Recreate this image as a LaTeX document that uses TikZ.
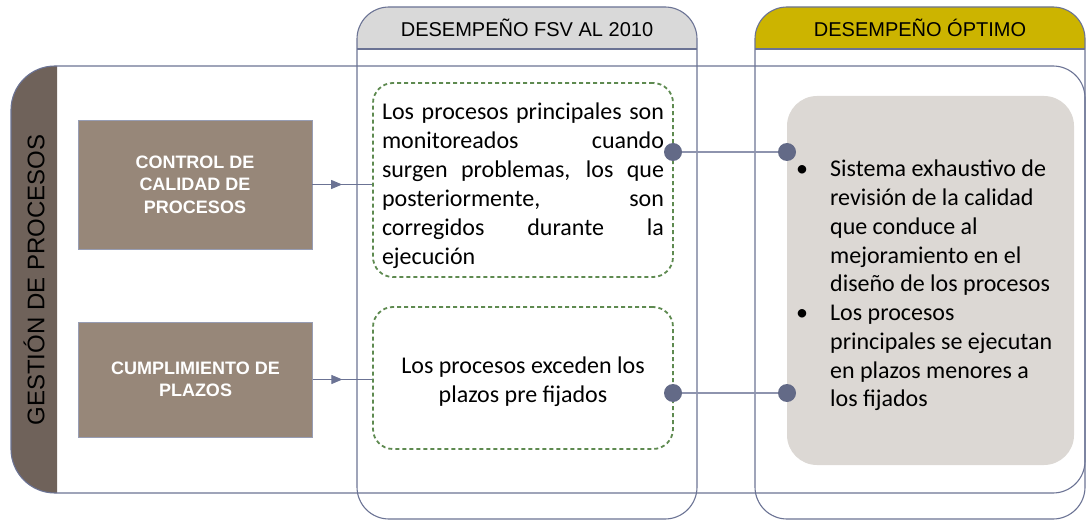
\documentclass[tikz,border=0pt]{standalone}
\usepackage{fontspec}
\setmainfont{Liberation Sans}
\newfontfamily\calibri{Carlito}
\usetikzlibrary{arrows.meta, shapes, positioning, calc, decorations.markings}

\definecolor{frameline}{HTML}{6B7394}
\definecolor{stripbrown}{HTML}{6F625A}
\definecolor{boxbrown}{HTML}{978779}
\definecolor{hdrgrey}{HTML}{D9D9D9}
\definecolor{hdrolive}{HTML}{CCB400}
\definecolor{optgrey}{HTML}{DCD8D4}
\definecolor{dashgreen}{HTML}{5E8A50}
\definecolor{dotslate}{HTML}{636A87}
\definecolor{linkslate}{HTML}{8E94AE}

\begin{document}
\begin{tikzpicture}[
    x=1pt, y=-1pt,
    frame/.style={draw=frameline, line width=1.1pt},
    hdr/.style={font=\fontsize{20}{24}\selectfont, text=black},
    areabox/.style={rectangle, draw=frameline!70, fill=boxbrown, text=white, font=\fontsize{18}{22.5}\selectfont\bfseries, align=center, minimum width=234pt},
    statebox/.style={rectangle, draw=dashgreen, line width=1.8pt, dash pattern=on 4pt off 3pt, rounded corners=20pt, minimum width=300pt},
    statetext/.style={inner sep=0pt, font=\calibri\fontsize{24}{29}\selectfont, text=black},
    optbox/.style={rectangle, fill=optgrey, rounded corners=30pt, minimum width=287pt, minimum height=369pt},
    linkdot/.style={circle, fill=dotslate, minimum size=18pt, inner sep=0pt},
    link/.style={draw=linkslate, line width=1.2pt},
    feed/.style={draw=frameline, line width=1pt, postaction={decorate},
      decoration={markings, mark=at position 0.5 with {\arrow{Triangle[length=11pt,width=9pt]}}}}
  ]
  \useasboundingbox (0,0) rectangle (1086,521);

  % row band with dark label strip
  \begin{scope}
    \clip (0,60) rectangle (57,500);
    \fill[stripbrown, rounded corners=44pt] (11,66) rectangle (200,493);
  \end{scope}
  \draw[frame] (300,66) [rounded corners=44pt] -- (11,66) -- (11,493) -- (300,493)
    [rounded corners=32pt] -- (1085,493) -- (1085,66) -- cycle;
  \node[rotate=90, font=\fontsize{24}{28}\selectfont, text=black] (area) at (34,280) {GESTIÓN DE PROCESOS};

  % column frames and headers
  \begin{scope}
    \clip (350,0) rectangle (705,49);
    \fill[hdrgrey, rounded corners=32pt] (357,7) rectangle (697,519);
  \end{scope}
  \begin{scope}
    \clip (750,0) rectangle (1086,49);
    \fill[hdrolive, rounded corners=32pt] (755,7) rectangle (1085,519);
  \end{scope}
  \draw[frame, rounded corners=32pt] (357,7) rectangle (697,519);
  \draw[frame] (357,49) -- (697,49);
  \draw[frame, rounded corners=32pt] (755,7) rectangle (1085,519);
  \draw[frame] (755,49) -- (1085,49);
  \node[hdr] (hdrnow) at (527,28) {DESEMPEÑO FSV AL 2010};
  \node[hdr] (hdrbest) at (920,28) {DESEMPEÑO ÓPTIMO};

  % areas
  \node[areabox, minimum height=129pt] (quality) at (195,184.5) {CONTROL DE\\CALIDAD DE\\PROCESOS};
  \node[areabox, minimum height=115pt] (deadline) at (195.5,379.5) {CUMPLIMIENTO DE\\PLAZOS};

  % current state
  \node[statebox, minimum height=194pt] (nowqual) at (523,180) {};
  \node[statetext, text width=282pt, align=justify] (nowqualtxt) at (523,186) {%
    \makebox[282pt][s]{Los procesos principales son}\\
    \makebox[282pt][s]{monitoreados cuando}\\
    \makebox[282pt][s]{surgen problemas, los que}\\
    \makebox[282pt][s]{posteriormente, son}\\
    \makebox[282pt][s]{corregidos durante la}\\
    ejecución};
  \node[statebox, minimum height=142pt] (nowtime) at (523,378) {};
  \node[statetext, align=center] (nowtimetxt) at (523,382) {Los procesos exceden los\\plazos pre fijados};

  % optimal state
  \node[optbox] (best) at (930.5,280.5) {};
  \node[anchor=west, inner sep=0pt, font=\calibri\fontsize{24}{28.75}\selectfont] (besttxt) at (796,286) {%
    \begin{tabular}{@{}l@{\hspace{22pt}}l@{}}
      \textbullet & Sistema exhaustivo de\\
                  & revisión de la calidad\\
                  & que conduce al\\
                  & mejoramiento en el\\
                  & diseño de los procesos\\
      \textbullet & Los procesos\\
                  & principales se ejecutan\\
                  & en plazos menores a\\
                  & los fijados
    \end{tabular}};

  % links
  \draw[feed] (quality.east) -- (quality.east -| nowqual.west);
  \draw[feed] (deadline.east) -- (deadline.east -| nowtime.west);
  \node[linkdot] (dq1) at (673,152) {};
  \node[linkdot] (dq2) at (787,152) {};
  \node[linkdot] (dt1) at (673,393) {};
  \node[linkdot] (dt2) at (787,393) {};
  \draw[link] (dq1) -- (dq2);
  \draw[link] (dt1) -- (dt2);
\end{tikzpicture}
\end{document}
